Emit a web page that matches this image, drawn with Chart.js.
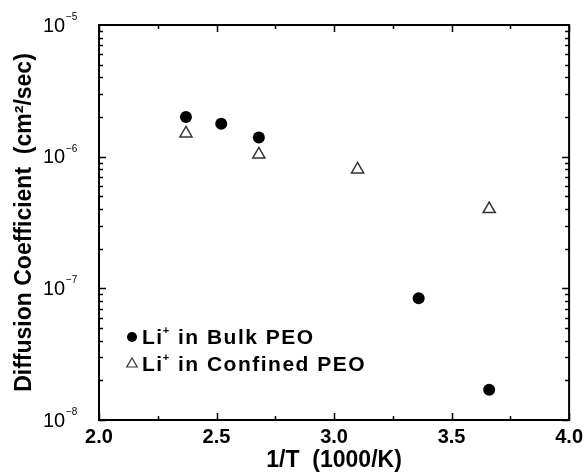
<!DOCTYPE html>
<html>
<head>
<meta charset="utf-8">
<script src="https://cdn.jsdelivr.net/npm/chart.js@4.4.1/dist/chart.umd.min.js"></script>
<style>
  body { margin: 0; background: #fff; }
  #wrap { width: 588px; height: 472px; }
</style>
</head>
<body>
<div id="wrap"><canvas id="diffChart"></canvas></div>
<script>
// data
var seriesNames = ['Li+ in Bulk PEO', 'Li+ in Confined PEO'];
var bulkX = [2.37, 2.52, 2.68, 3.36, 3.66];
var bulkY = [2.0e-6, 1.78e-6, 1.40e-6, 8.4e-8, 1.7e-8];
var confinedX = [2.37, 2.68, 3.10, 3.66];
var confinedY = [1.5e-6, 1.04e-6, 8.0e-7, 4.0e-7];

var xTickValues = [2.0, 2.5, 3.0, 3.5, 4.0];
var yTickExponents = [-8, -7, -6, -5];

function toPoints(xs, ys) {
    var pts = [];
    xs.forEach(function(x, i) {
        pts.push({x: x, y: ys[i]});
    });
    return pts;
}

var FONT = '"Liberation Sans", Arial, Helvetica, sans-serif';

// frame, inward ticks, y labels with exponents and the legend
var framePlugin = {
    id: 'frame',
    afterDraw: function(chart) {
        var ctx = chart.ctx;
        var a = chart.chartArea;
        var xs = chart.scales.x, ys = chart.scales.y;
        ctx.save();
        ctx.strokeStyle = '#000';

        // x ticks, bottom and top
        ctx.lineWidth = 1.5;
        for (var v = 2.0; v <= 4.0001; v += 0.25) {
            var px = Math.round(xs.getPixelForValue(v)) + 0.5;
            var major = Math.abs(v * 2 - Math.round(v * 2)) < 1e-6;
            var len = major ? 7 : 4;
            ctx.beginPath();
            ctx.moveTo(px, a.bottom); ctx.lineTo(px, a.bottom - len);
            ctx.moveTo(px, a.top); ctx.lineTo(px, a.top + len);
            ctx.stroke();
        }
        // y ticks, left and right
        for (var e = yTickExponents[0]; e < yTickExponents[yTickExponents.length - 1]; e++) {
            for (var m = 1; m <= 9; m++) {
                var py = Math.round(ys.getPixelForValue(m * Math.pow(10, e))) + 0.5;
                var l = m === 1 ? 7 : 4;
                ctx.beginPath();
                ctx.moveTo(a.left, py); ctx.lineTo(a.left + l, py);
                ctx.moveTo(a.right, py); ctx.lineTo(a.right - l, py);
                ctx.stroke();
            }
        }

        // frame
        ctx.lineWidth = 2;
        ctx.strokeRect(a.left, a.top, a.right - a.left, a.bottom - a.top);

        // y tick labels 10^n
        ctx.fillStyle = '#000';
        ctx.textAlign = 'left';
        yTickExponents.forEach(function(n) {
            var py = ys.getPixelForValue(Math.pow(10, n));
            ctx.font = '20px ' + FONT;
            ctx.textBaseline = 'middle';
            ctx.fillText('10', 43, py + 1);
            ctx.font = '10px ' + FONT;
            ctx.textBaseline = 'alphabetic';
            ctx.fillText('\u2212' + Math.abs(n), 66, py - 5);
        });

        // legend inside the plot
        var rows = [
            {y: 337, ds: chart.data.datasets[0]},
            {y: 364, ds: chart.data.datasets[1]}
        ];
        rows.forEach(function(r) {
            var mx = 132;
            if (r.ds.pointStyle === 'circle') {
                ctx.beginPath();
                ctx.arc(mx, r.y, 5, 0, Math.PI * 2);
                ctx.fillStyle = '#000';
                ctx.fill();
            } else {
                var rad = 6;
                ctx.beginPath();
                ctx.moveTo(mx, r.y - rad);
                ctx.lineTo(mx + rad * 0.866, r.y + rad / 2);
                ctx.lineTo(mx - rad * 0.866, r.y + rad / 2);
                ctx.closePath();
                ctx.lineWidth = 1.2;
                ctx.strokeStyle = '#333';
                ctx.stroke();
            }
            var parts = r.ds.label.split('+');
            var tx = 142;
            ctx.fillStyle = '#000';
            ctx.letterSpacing = '1.5px';
            ctx.font = 'bold 21px ' + FONT;
            ctx.textBaseline = 'middle';
            ctx.fillText(parts[0], tx, r.y + 1);
            tx += ctx.measureText(parts[0]).width;
            ctx.font = 'bold 11px ' + FONT;
            ctx.textBaseline = 'alphabetic';
            ctx.fillText('+', tx - 1, r.y - 3);
            tx += ctx.measureText('+').width - 1;
            ctx.font = 'bold 21px ' + FONT;
            ctx.textBaseline = 'middle';
            ctx.fillText(parts[1], tx, r.y + 1);
            ctx.letterSpacing = '0px';
        });
        ctx.restore();
    }
};

var chart = new Chart(document.getElementById('diffChart'), {
    type: 'scatter',
    data: {
        datasets: [{
            label: seriesNames[0],
            data: toPoints(bulkX, bulkY),
            pointStyle: 'circle',
            pointRadius: 6,
            pointHoverRadius: 6,
            backgroundColor: '#000',
            borderColor: '#000',
            borderWidth: 0
        }, {
            label: seriesNames[1],
            data: toPoints(confinedX, confinedY),
            pointStyle: 'triangle',
            pointRadius: 7,
            pointHoverRadius: 7,
            backgroundColor: 'rgba(255,255,255,0)',
            borderColor: '#333',
            borderWidth: 1.5
        }]
    },
    options: {
        responsive: true,
        maintainAspectRatio: false,
        animation: false,
        events: [],
        layout: { padding: { top: 25, right: 15, left: 0, bottom: 0 } },
        plugins: {
            legend: { display: false },
            tooltip: { enabled: false }
        },
        scales: {
            x: {
                type: 'linear',
                min: 2.0,
                max: 4.0,
                afterBuildTicks: function(s) {
                    s.ticks = xTickValues.map(function(v) { return {value: v}; });
                },
                afterFit: function(s) { s.height = 52; },
                grid: { display: false, drawTicks: false },
                border: { display: false },
                ticks: {
                    padding: 5,
                    color: '#000',
                    font: { family: FONT, size: 20, weight: 'bold' },
                    callback: function(v) { return Number(v).toFixed(1); }
                },
                title: {
                    display: true,
                    text: '1/T  (1000/K)',
                    color: '#000',
                    padding: 0,
                    font: { family: FONT, size: 23, weight: 'bold', lineHeight: 1.0 }
                }
            },
            y: {
                type: 'logarithmic',
                min: 1e-8,
                max: 1e-5,
                afterFit: function(s) { s.width = 99; },
                grid: { display: false, drawTicks: false },
                border: { display: false },
                ticks: { display: false },
                title: {
                    display: true,
                    text: 'Diffusion Coefficient  (cm\u00b2/sec)',
                    color: '#000',
                    padding: { top: 11, bottom: 0 },
                    font: { family: FONT, size: 23, weight: 'bold' }
                }
            }
        }
    },
    plugins: [framePlugin]
});
</script>
</body>
</html>
